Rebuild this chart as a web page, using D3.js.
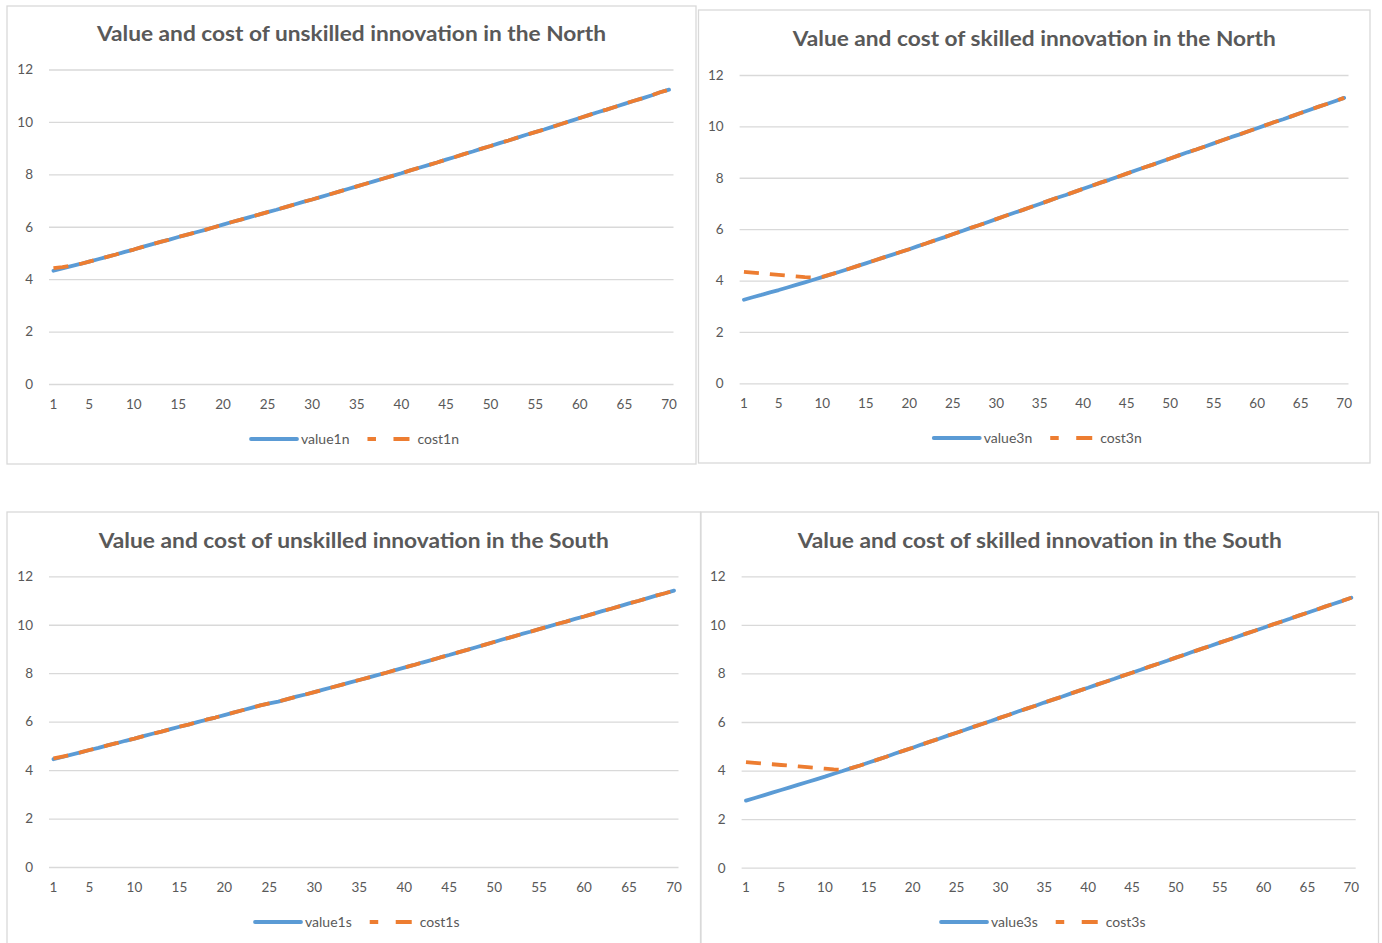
<!DOCTYPE html>
<html>
<head>
<meta charset="utf-8">
<script src="https://cdn.jsdelivr.net/npm/d3@7/dist/d3.min.js"></script>
<style>
  html, body { margin: 0; padding: 0; background: #ffffff; }
  svg { display: block; }
  text { font-family: Lato, "Open Sans", "Liberation Sans", sans-serif; fill: #595959; }
</style>
</head>
<body>
<svg id="chart" width="1382" height="943"></svg>
<script>
// Period index shared by all four panels
const categories = d3.range(1, 71);
const xTickLabels = [1, 5, 10, 15, 20, 25, 30, 35, 40, 45, 50, 55, 60, 65, 70];
const yTickLabels = [0, 2, 4, 6, 8, 10, 12];

// Unskilled innovation, North
const value1n = [
  4.32, 4.41, 4.50, 4.58, 4.67, 4.76, 4.85, 4.94, 5.04, 5.13,
  5.23, 5.33, 5.42, 5.51, 5.61, 5.70, 5.79, 5.88, 5.98, 6.08,
  6.18, 6.27, 6.37, 6.46, 6.56, 6.65, 6.75, 6.85, 6.95, 7.04,
  7.14, 7.24, 7.34, 7.44, 7.54, 7.64, 7.74, 7.84, 7.94, 8.04,
  8.15, 8.25, 8.35, 8.45, 8.56, 8.66, 8.77, 8.87, 8.98, 9.08,
  9.19, 9.29, 9.40, 9.51, 9.61, 9.71, 9.82, 9.93, 10.04, 10.15,
  10.26, 10.37, 10.47, 10.58, 10.69, 10.80, 10.90, 11.01, 11.13, 11.23
];
const cost1n = [
  4.42, 4.46, 4.51, 4.58, 4.67, 4.76, 4.85, 4.94, 5.04, 5.13,
  5.23, 5.33, 5.42, 5.51, 5.61, 5.70, 5.79, 5.88, 5.98, 6.08,
  6.18, 6.27, 6.37, 6.46, 6.56, 6.65, 6.75, 6.85, 6.95, 7.04,
  7.14, 7.24, 7.34, 7.44, 7.54, 7.64, 7.74, 7.84, 7.94, 8.04,
  8.15, 8.25, 8.35, 8.45, 8.56, 8.66, 8.77, 8.87, 8.98, 9.08,
  9.19, 9.29, 9.40, 9.51, 9.61, 9.71, 9.82, 9.93, 10.04, 10.15,
  10.26, 10.37, 10.47, 10.58, 10.69, 10.80, 10.90, 11.01, 11.13, 11.23
];

// Skilled innovation, North
const value3n = [
  3.25, 3.35, 3.44, 3.54, 3.63, 3.73, 3.83, 3.93, 4.03, 4.13,
  4.24, 4.34, 4.45, 4.56, 4.67, 4.78, 4.89, 5.00, 5.11, 5.22,
  5.34, 5.45, 5.57, 5.68, 5.80, 5.92, 6.04, 6.15, 6.27, 6.39,
  6.51, 6.63, 6.74, 6.86, 6.98, 7.10, 7.22, 7.33, 7.45, 7.57,
  7.69, 7.81, 7.92, 8.04, 8.16, 8.28, 8.40, 8.51, 8.63, 8.75,
  8.87, 8.99, 9.10, 9.22, 9.34, 9.46, 9.58, 9.69, 9.81, 9.93,
  10.05, 10.17, 10.28, 10.40, 10.52, 10.64, 10.76, 10.87, 10.99, 11.11
];
const cost3n = [
  4.34, 4.31, 4.28, 4.25, 4.22, 4.19, 4.16, 4.13, 4.12, 4.14,
  4.24, 4.34, 4.45, 4.56, 4.67, 4.78, 4.89, 5.00, 5.11, 5.22,
  5.34, 5.45, 5.57, 5.68, 5.80, 5.92, 6.04, 6.15, 6.27, 6.39,
  6.51, 6.63, 6.74, 6.86, 6.98, 7.10, 7.22, 7.33, 7.45, 7.57,
  7.69, 7.81, 7.92, 8.04, 8.16, 8.28, 8.40, 8.51, 8.63, 8.75,
  8.87, 8.99, 9.10, 9.22, 9.34, 9.46, 9.58, 9.69, 9.81, 9.93,
  10.05, 10.17, 10.28, 10.40, 10.52, 10.64, 10.76, 10.87, 10.99, 11.11
];

// Unskilled innovation, South
const value1s = [
  4.45, 4.54, 4.64, 4.73, 4.83, 4.92, 5.02, 5.11, 5.21, 5.30,
  5.40, 5.50, 5.59, 5.69, 5.79, 5.88, 5.98, 6.08, 6.17, 6.27,
  6.37, 6.47, 6.57, 6.67, 6.75, 6.83, 6.93, 7.03, 7.12, 7.22,
  7.32, 7.42, 7.52, 7.62, 7.72, 7.82, 7.92, 8.02, 8.13, 8.23,
  8.33, 8.44, 8.54, 8.65, 8.75, 8.86, 8.96, 9.07, 9.18, 9.29,
  9.40, 9.50, 9.61, 9.71, 9.82, 9.92, 10.03, 10.13, 10.24, 10.34,
  10.45, 10.56, 10.66, 10.77, 10.88, 10.98, 11.09, 11.20, 11.30, 11.41
];
const cost1s = [
  4.48, 4.56, 4.64, 4.73, 4.83, 4.92, 5.02, 5.11, 5.21, 5.30,
  5.40, 5.50, 5.59, 5.69, 5.79, 5.88, 5.98, 6.08, 6.17, 6.27,
  6.37, 6.47, 6.57, 6.67, 6.75, 6.83, 6.93, 7.03, 7.12, 7.22,
  7.32, 7.42, 7.52, 7.62, 7.72, 7.82, 7.92, 8.02, 8.13, 8.23,
  8.33, 8.44, 8.54, 8.65, 8.75, 8.86, 8.96, 9.07, 9.18, 9.29,
  9.40, 9.50, 9.61, 9.71, 9.82, 9.92, 10.03, 10.13, 10.24, 10.34,
  10.45, 10.56, 10.66, 10.77, 10.88, 10.98, 11.09, 11.20, 11.30, 11.41
];

// Skilled innovation, South
const value3s = [
  2.76, 2.87, 2.98, 3.09, 3.20, 3.31, 3.42, 3.53, 3.64, 3.75,
  3.87, 3.98, 4.10, 4.21, 4.33, 4.45, 4.57, 4.70, 4.82, 4.94,
  5.07, 5.19, 5.31, 5.44, 5.56, 5.68, 5.81, 5.93, 6.05, 6.18,
  6.30, 6.43, 6.55, 6.67, 6.80, 6.92, 7.04, 7.17, 7.29, 7.41,
  7.54, 7.66, 7.78, 7.91, 8.03, 8.15, 8.28, 8.40, 8.52, 8.65,
  8.77, 8.90, 9.02, 9.14, 9.27, 9.39, 9.51, 9.64, 9.76, 9.88,
  10.01, 10.13, 10.25, 10.38, 10.50, 10.62, 10.75, 10.87, 10.99, 11.12
];
const cost3s = [
  4.35, 4.32, 4.29, 4.26, 4.23, 4.20, 4.17, 4.14, 4.11, 4.08,
  4.05, 4.03, 4.10, 4.21, 4.33, 4.45, 4.57, 4.70, 4.82, 4.94,
  5.07, 5.19, 5.31, 5.44, 5.56, 5.68, 5.81, 5.93, 6.05, 6.18,
  6.30, 6.43, 6.55, 6.67, 6.80, 6.92, 7.04, 7.17, 7.29, 7.41,
  7.54, 7.66, 7.78, 7.91, 8.03, 8.15, 8.28, 8.40, 8.52, 8.65,
  8.77, 8.90, 9.02, 9.14, 9.27, 9.39, 9.51, 9.64, 9.76, 9.88,
  10.01, 10.13, 10.25, 10.38, 10.50, 10.62, 10.75, 10.87, 10.99, 11.12
];

const BLUE = "#5B9BD5";
const ORANGE = "#ED7D31";
const GRID = "#D9D9D9";

// Frame and plot-area geometry of each chart box
const panels = [
  { title: "Value and cost of unskilled innovation in the North", titleWidth: 509,
    box: [7, 6, 696, 464], plotX: [49, 673.5], plotY: [384, 69.5], titleY: 41, legendY: 439,
    value: value1n, cost: cost1n, names: ["value1n", "cost1n"] },
  { title: "Value and cost of skilled innovation in the North", titleWidth: 483,
    box: [698.5, 10, 1370, 463], plotX: [739.6, 1348.5], plotY: [383.3, 75], titleY: 46, legendY: 438,
    value: value3n, cost: cost3n, names: ["value3n", "cost3n"] },
  { title: "Value and cost of unskilled innovation in the South", titleWidth: 510,
    box: [7, 512, 700.5, 975], plotX: [49, 678.5], plotY: [867, 576.3], titleY: 548, legendY: 922,
    value: value1s, cost: cost1s, names: ["value1s", "cost1s"] },
  { title: "Value and cost of skilled innovation in the South", titleWidth: 484,
    box: [701, 512, 1378.5, 975], plotX: [741.6, 1355.7], plotY: [867.7, 576.3], titleY: 548, legendY: 922,
    value: value3s, cost: cost3s, names: ["value3s", "cost3s"] }
];

const svg = d3.select("#chart");

panels.forEach(p => {
  const [bx0, by0, bx1, by1] = p.box;
  const cx = (bx0 + bx1) / 2;
  const g = svg.append("g");

  // chart frame
  g.append("rect")
    .attr("x", bx0).attr("y", by0)
    .attr("width", bx1 - bx0).attr("height", by1 - by0)
    .attr("fill", "#ffffff").attr("stroke", GRID).attr("stroke-width", 1.3);

  // title
  g.append("text")
    .attr("x", cx).attr("y", p.titleY)
    .attr("text-anchor", "middle")
    .attr("font-size", 20.5).attr("font-weight", 700)
    .attr("textLength", p.titleWidth).attr("lengthAdjust", "spacingAndGlyphs")
    .text(p.title);

  const x = d3.scaleBand().domain(categories).range(p.plotX);
  const y = d3.scaleLinear().domain([0, 12]).range(p.plotY);
  const xc = c => x(c) + x.bandwidth() / 2;

  // value axis with horizontal gridlines
  const yAxis = g.append("g")
    .attr("transform", `translate(${p.plotX[0]},0)`)
    .call(d3.axisLeft(y).tickValues(yTickLabels)
      .tickSize(-(p.plotX[1] - p.plotX[0])).tickPadding(16));
  yAxis.select(".domain").remove();
  yAxis.selectAll(".tick line").attr("stroke", GRID).attr("stroke-width", 1.3);
  yAxis.selectAll(".tick text")
    .attr("fill", "#595959").attr("font-size", 13.5)
    .attr("font-family", "Lato, 'Open Sans', sans-serif");

  // category axis
  const xAxis = g.append("g")
    .attr("transform", `translate(0,${p.plotY[0]})`)
    .call(d3.axisBottom(x).tickValues(xTickLabels).tickSize(0).tickPadding(15));
  xAxis.select(".domain").remove();
  xAxis.selectAll(".tick text")
    .attr("fill", "#595959").attr("font-size", 13.5)
    .attr("font-family", "Lato, 'Open Sans', sans-serif");

  const line = d3.line()
    .x((d, i) => xc(categories[i]))
    .y(d => y(d));

  g.append("path")
    .datum(p.value)
    .attr("d", line)
    .attr("fill", "none").attr("stroke", BLUE).attr("stroke-width", 3.8)
    .attr("stroke-linejoin", "round").attr("stroke-linecap", "round");

  g.append("path")
    .datum(p.cost)
    .attr("d", line)
    .attr("fill", "none").attr("stroke", ORANGE).attr("stroke-width", 3.8)
    .attr("stroke-linejoin", "round").attr("stroke-dasharray", "15 11");

  // legend
  const lg = g.append("g");
  const t1 = lg.append("text").attr("font-size", 14).attr("dy", "0.35em").text(p.names[0]);
  const t2 = lg.append("text").attr("font-size", 14).attr("dy", "0.35em").text(p.names[1]);
  const w1 = t1.node().getComputedTextLength();
  const w2 = t2.node().getComputedTextLength();
  const total = 46 + 4 + w1 + 18 + 42 + 8 + w2;
  let lx = cx + 3.5 - total / 2;
  const ly = p.legendY;
  lg.append("line")
    .attr("x1", lx).attr("x2", lx + 46).attr("y1", ly).attr("y2", ly)
    .attr("stroke", BLUE).attr("stroke-width", 3.8).attr("stroke-linecap", "round");
  t1.attr("x", lx + 50).attr("y", ly);
  lx += 50 + w1 + 18;
  lg.append("line")
    .attr("x1", lx).attr("x2", lx + 42).attr("y1", ly).attr("y2", ly)
    .attr("stroke", ORANGE).attr("stroke-width", 3.8)
    .attr("stroke-dasharray", "8.5 17.5 16 40");
  t2.attr("x", lx + 50).attr("y", ly);
});
</script>
</body>
</html>
